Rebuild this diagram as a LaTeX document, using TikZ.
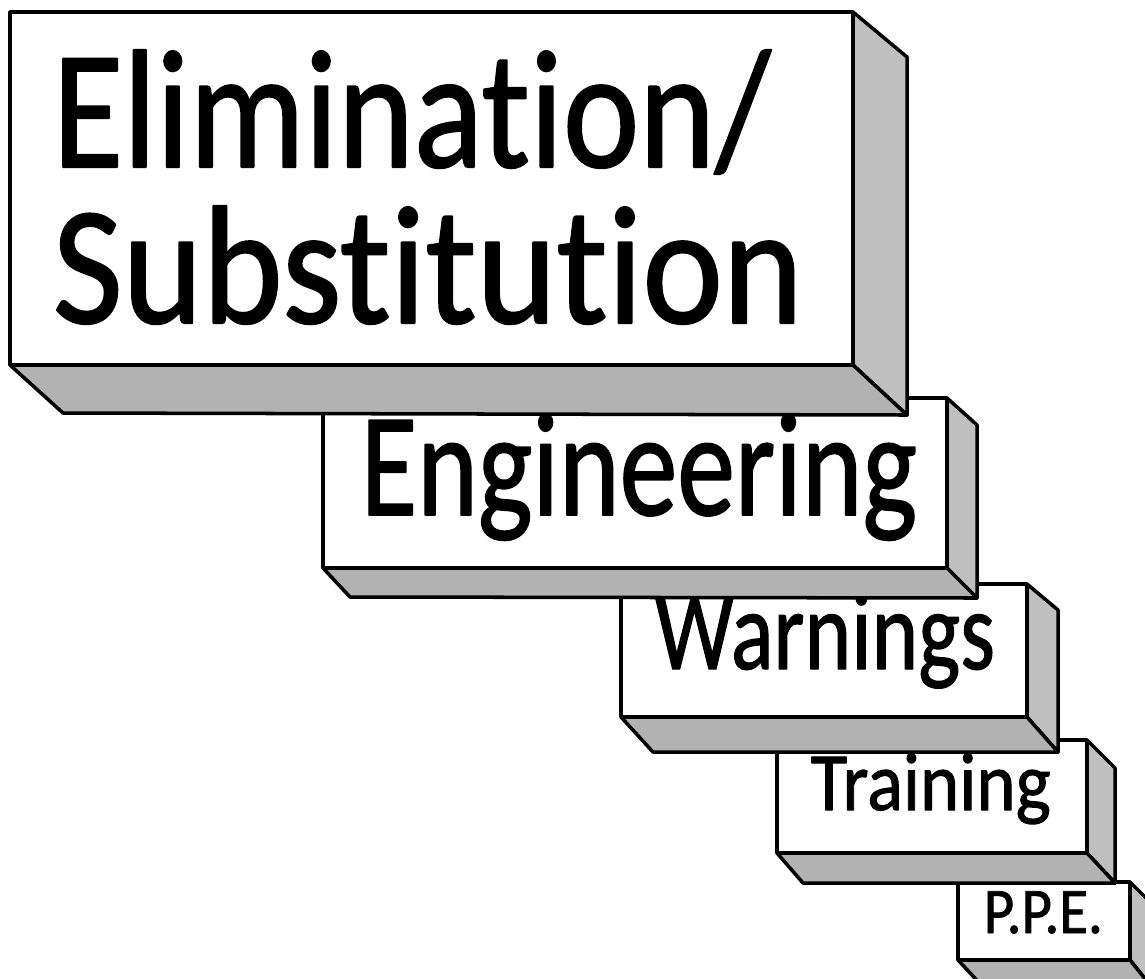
\documentclass[tikz,border=0pt]{standalone}
\usepackage{fontspec}
\setmainfont{Carlito}[Ligatures=NoCommon,FakeBold=1.2]
\usepackage{tikz}

\begin{document}
\begin{tikzpicture}[x=0.01cm,y=-0.01cm,line width=1pt,line join=round,
  frontface/.style={draw=black,fill=white},
  sideface/.style={draw=black,fill=black!25},
  bottomface/.style={draw=black,fill=black!30},
  lbl/.style={anchor=base west,inner sep=0pt}]
\clip (0,0) rectangle (1145,978);
% P.P.E.
\draw[frontface] (958,882) rectangle (1130,960);
\draw[sideface] (1130,882) -- (1158,910) -- (1158,995) -- (1130,960) -- cycle;
\draw[bottomface] (958,960) -- (986,990) -- (1158,995) -- (1130,960) -- cycle;
\node[lbl,font=\fontsize{18.5}{22}\selectfont] (ppe) at (982,933) {\resizebox{11.9mm}{\height}{P.P.E.}};
% Training
\draw[frontface] (777,740) rectangle (1087,853);
\draw[sideface] (1087,740) -- (1115,768) -- (1115,883) -- (1087,853) -- cycle;
\draw[bottomface] (777,853) -- (803,883) -- (1115,883) -- (1087,853) -- cycle;
\node[lbl,font=\fontsize{23.5}{28}\selectfont] (train) at (809,810) {\resizebox{24mm}{\height}{Training}};
% Warnings
\draw[frontface] (621,584) rectangle (1027,717);
\draw[sideface] (1027,584) -- (1058,610) -- (1058,752) -- (1027,717) -- cycle;
\draw[bottomface] (621,717) -- (653,752) -- (1058,752) -- (1027,717) -- cycle;
\node[lbl,font=\fontsize{32}{38}\selectfont] (warn) at (653,669) {\resizebox{34mm}{\height}{Warnings}};
% Engineering
\draw[frontface] (323,398) rectangle (947,568);
\draw[sideface] (947,398) -- (977,425) -- (977,598) -- (947,568) -- cycle;
\draw[bottomface] (323,568) -- (350,597) -- (977,598) -- (947,568) -- cycle;
\node[lbl,font=\fontsize{42}{50}\selectfont] (eng) at (359,515) {\resizebox{55.6mm}{\height}{Engineering}};
% Elimination / Substitution
\draw[frontface] (10,12) rectangle (853,365);
\draw[sideface] (853,12) -- (907,57) -- (907,415) -- (853,365) -- cycle;
\draw[bottomface] (10,365) -- (63,413) -- (907,415) -- (853,365) -- cycle;
\node[lbl,font=\fontsize{48}{57}\selectfont] (elim) at (51,167) {\resizebox{71.8mm}{\height}{Elimination/}};
\node[lbl,font=\fontsize{48}{57}\selectfont] (subst) at (51,323) {\resizebox{75mm}{\height}{Substitution}};
\end{tikzpicture}
\end{document}
